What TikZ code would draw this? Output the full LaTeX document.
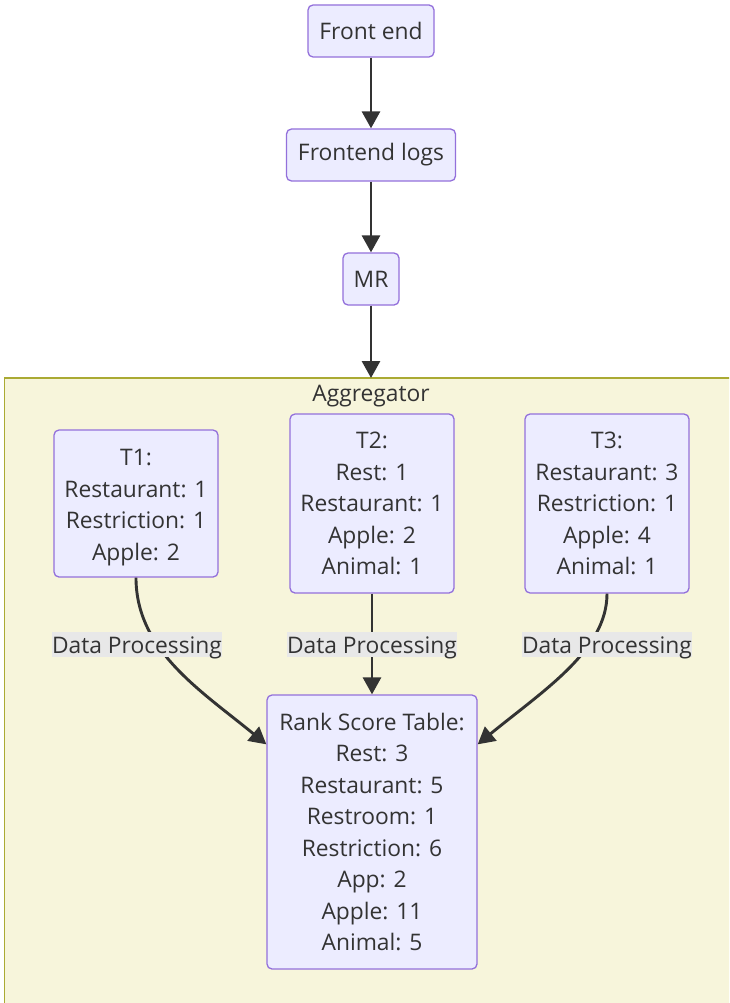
\documentclass[tikz,border=0pt]{standalone}
\usepackage{fontspec}
\setmainfont{Open Sans}
\usetikzlibrary{arrows.meta,calc}
\definecolor{nodefill}{HTML}{ECECFF}
\definecolor{nodeline}{HTML}{9370DB}
\definecolor{clfill}{HTML}{F7F5DB}
\definecolor{clline}{HTML}{AAAA33}
\definecolor{edgecol}{HTML}{333333}
\definecolor{lblfill}{HTML}{E8E8E8}
\definecolor{txt}{HTML}{333333}
\tikzset{
  box/.style={draw=nodeline, fill=nodefill, line width=1.3pt, rounded corners=5pt,
    align=center, inner sep=0pt, text=txt,
    font=\fontsize{22.8}{31.5}\selectfont},
  cluster/.style={fill=clfill, inner sep=0pt, anchor=north west},
  clborder/.style={draw=clline, line width=1.5pt},
  edge/.style={draw=edgecol, line width=2.9pt, -{Triangle[length=17pt,width=18pt]}},
  elabel/.style={fill=lblfill, text=txt, inner sep=0pt, minimum width=170pt, minimum height=25pt,
    text height=21pt, text depth=4pt, font=\fontsize{22.8}{31.5}\selectfont},
}
\begin{document}
\begin{tikzpicture}[x=1pt,y=-1pt]
\useasboundingbox (0,0) rectangle (729,1003);
\clip (0,0) rectangle (729,1003);
\fill[white] (0,0) rectangle (729,1003);
% cluster
\node[cluster, minimum width=730pt, minimum height=630pt] (agg) at (4.5,378) {};
\draw[clborder] (agg.south west) -- (agg.north west) -- (agg.north east);
\node[text=txt, font=\fontsize{22.8}{31.5}\selectfont] (aggl) at (371,396.5) {Aggregator};
% nodes
\node[box, minimum width=126pt, minimum height=52pt] (fe) at (371,31) {Front end};
\node[box, minimum width=169pt, minimum height=52pt] (fl) at (371,155) {Frontend logs};
\node[box, minimum width=56pt, minimum height=52pt] (mr) at (371,279) {MR};
\node[box, minimum width=164pt, minimum height=147pt] (t1) at (136,503.5) {\rule{0pt}{24pt}T1:\\Restaurant: 1\\Restriction: 1\\Apple: 2};
\node[box, minimum width=164pt, minimum height=179pt] (t2) at (372,503.5) {T2:\\Rest: 1\\Restaurant: 1\\Apple: 2\\Animal: 1};
\node[box, minimum width=164pt, minimum height=179pt] (t3) at (607,503.5) {T3:\\Restaurant: 3\\Restriction: 1\\Apple: 4\\Animal: 1};
\node[box, minimum width=210pt, minimum height=274pt] (rank) at (372,832) {Rank Score Table:\\Rest: 3\\Restaurant: 5\\Restroom: 1\\Restriction: 6\\App: 2\\Apple: 11\\Animal: 5};
\coordinate (rl) at ($(rank.north west)+(0,50)$);
\coordinate (rr) at ($(rank.north east)+(0,50)$);
% edges
\draw[edge] (fe) -- (fl);
\draw[edge] (fl) -- (mr);
\draw[edge] (mr.south) -- (mr.south |- agg.north);
\draw[edge] (t1.south) .. controls (136,650) and (200,690) .. (rl);
\draw[edge] (t2.south) -- (rank.north);
\draw[edge] (t3.south) .. controls (607,650) and (544,690) .. (rr);
% edge labels
\node[elabel] (l1) at (137,644.5) {Data Processing};
\node[elabel] (l2) at (372,644.5) {Data Processing};
\node[elabel] (l3) at (607,644.5) {Data Processing};
\end{tikzpicture}
\end{document}
